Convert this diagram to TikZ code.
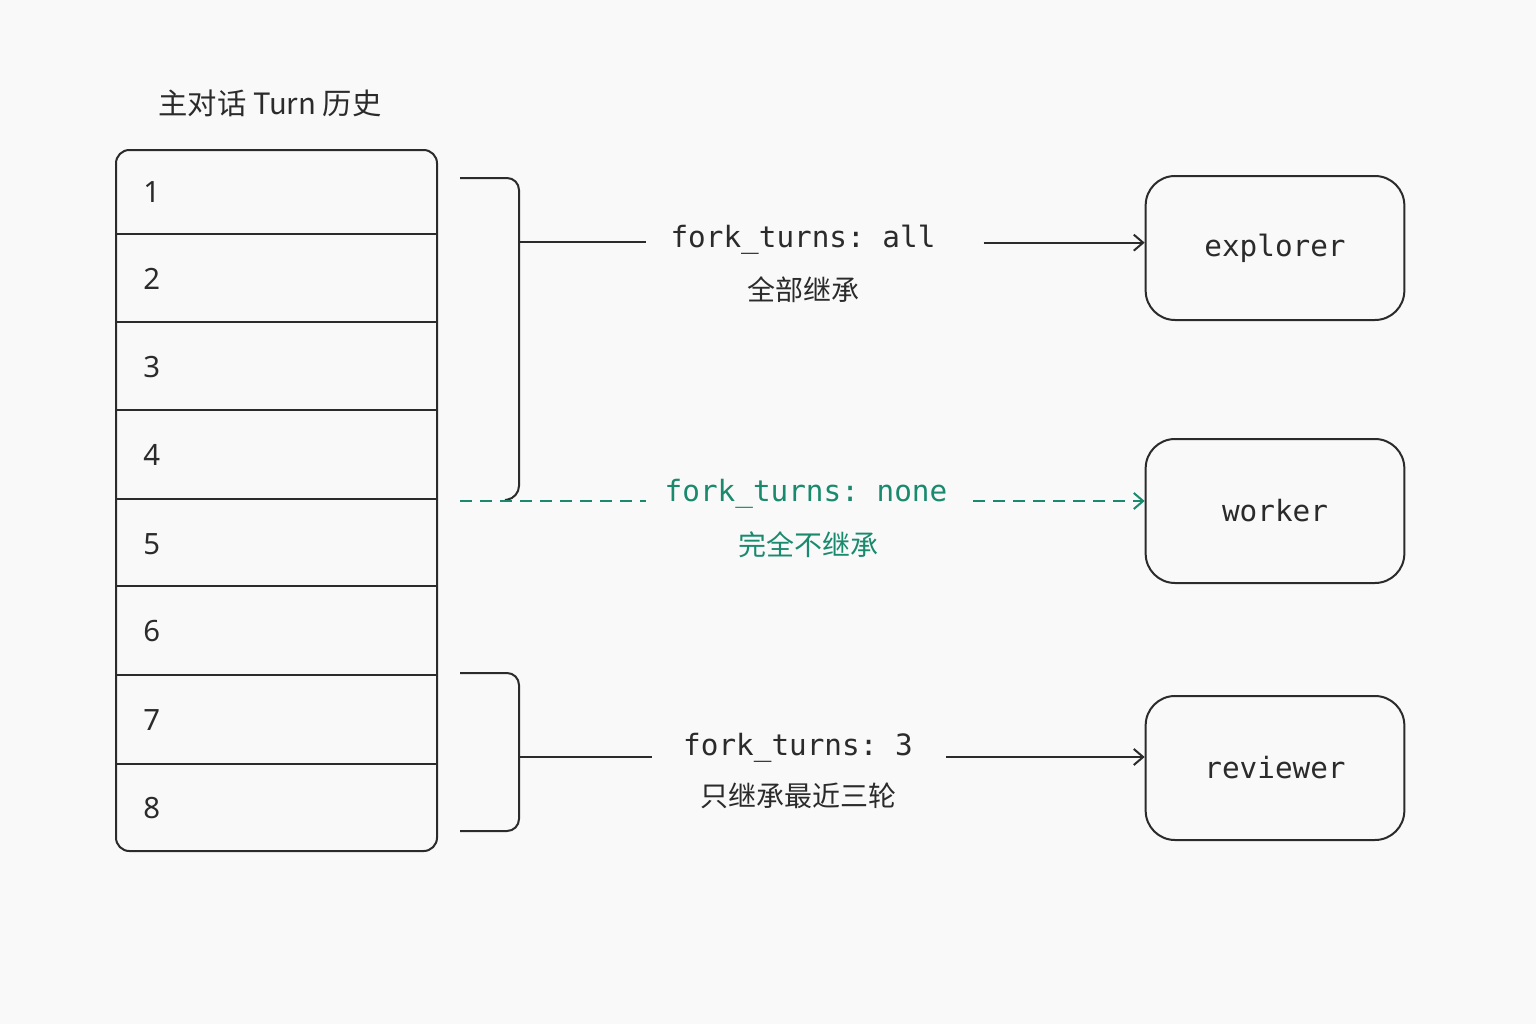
\documentclass[tikz,border=0pt]{standalone}
\usepackage{fontspec}
\setmainfont{Noto Sans}
\setmonofont{DejaVu Sans Mono}
\newfontfamily\cjk{Noto Sans CJK SC}
\usetikzlibrary{arrows.meta}
\definecolor{inkgray}{HTML}{2B2B2B}
\definecolor{forkgreen}{HTML}{1A8A6E}
\definecolor{paper}{HTML}{F9F9F9}
\tikzset{every picture/.style={line width=1.5pt}}
\tikzset{
  turnbox/.style={draw=inkgray, rounded corners=10pt},
  agent/.style={draw=inkgray, rounded corners=22pt, minimum width=194pt, minimum height=108pt, font=\ttfamily\fontsize{22}{26}\selectfont, text=inkgray},
  forklbl/.style={font=\ttfamily\fontsize{22}{26}\selectfont, text=inkgray},
  cjklbl/.style={font=\cjk\fontsize{21}{25}\selectfont, text=inkgray},
  link/.style={draw=inkgray, -{Straight Barb[length=7pt,width=12pt]}},
  none/.style={draw=forkgreen, dash pattern=on 9pt off 6pt},
}

\begin{document}
\begin{tikzpicture}[x=0.75pt,y=0.75pt,yscale=-1,xscale=1]
	\fill[paper] (0,0) rectangle (1536,1024);
	\useasboundingbox (0,0) rectangle (1536,1024);

	% Title
	\node[font=\cjk\fontsize{22}{26}\selectfont, text=inkgray] (title) at (270,103) {主对话 Turn 历史};

	% Turn stack
	\draw[turnbox] (116,150) rectangle (437,851);
	\foreach \y in {234,322,410,499,586,675,764}
		\draw[inkgray] (116,\y) -- (437,\y);
	\foreach \n/\y in {1/192,2/279,3/367,4/455,5/544,6/631,7/720,8/808}
		\node[font=\fontsize{22}{26}\selectfont, text=inkgray, anchor=west] (turn\n) at (138,\y) {\n};

	% Agents
	\node[agent] (explorer) at (1275,248) {explorer};
	\node[agent] (worker) at (1275,511) {worker};
	\node[agent] (reviewer) at (1275,768) {reviewer};

	% Labels
	\node[forklbl] (allkey) at (803,240) {fork\_turns: all};
	\node[cjklbl] (alltxt) at (803,290) {全部继承};
	\node[forklbl, text=forkgreen] (nonekey) at (806,494) {fork\_turns: none};
	\node[cjklbl, text=forkgreen] (nonetxt) at (808,545) {完全不继承};
	\node[forklbl] (threekey) at (798,748) {fork\_turns: 3};
	\node[cjklbl] (threetxt) at (798,796) {只继承最近三轮};

	% Bracket for all turns
	\coordinate (alltop) at (460,178);
	\coordinate (allmid) at (519,242);
	\coordinate (allend) at (646,242);
	\draw[inkgray, rounded corners=9pt] (alltop) -- (519,178) -- (519,498) -- (505,500);
	\draw[inkgray] (allmid) -- (allend);
	\draw[link] (allkey.east) ++(32pt,2pt) coordinate (allstart) -- (allstart -| explorer.west);

	% No inheritance
	\coordinate (nonebeg) at (460,501);
	\coordinate (noneend) at (646,501);
	\draw[none] (nonebeg) -- (noneend);
	\coordinate (nonestart) at (973,501);
	\draw[none, -{Straight Barb[length=7pt,width=12pt]}] (nonestart) -- (nonestart -| worker.west);

	% Bracket for last three
	\coordinate (threetop) at (460,673);
	\coordinate (threebot) at (460,831);
	\coordinate (threemid) at (519,757);
	\coordinate (threeend) at (652,757);
	\draw[inkgray, rounded corners=9pt] (threetop) -- (519,673) -- (519,831) -- (threebot);
	\draw[inkgray] (threemid) -- (threeend);
	\coordinate (threestart) at (946,757);
	\draw[link] (threestart) -- (threestart -| reviewer.west);

\end{tikzpicture}
\end{document}
